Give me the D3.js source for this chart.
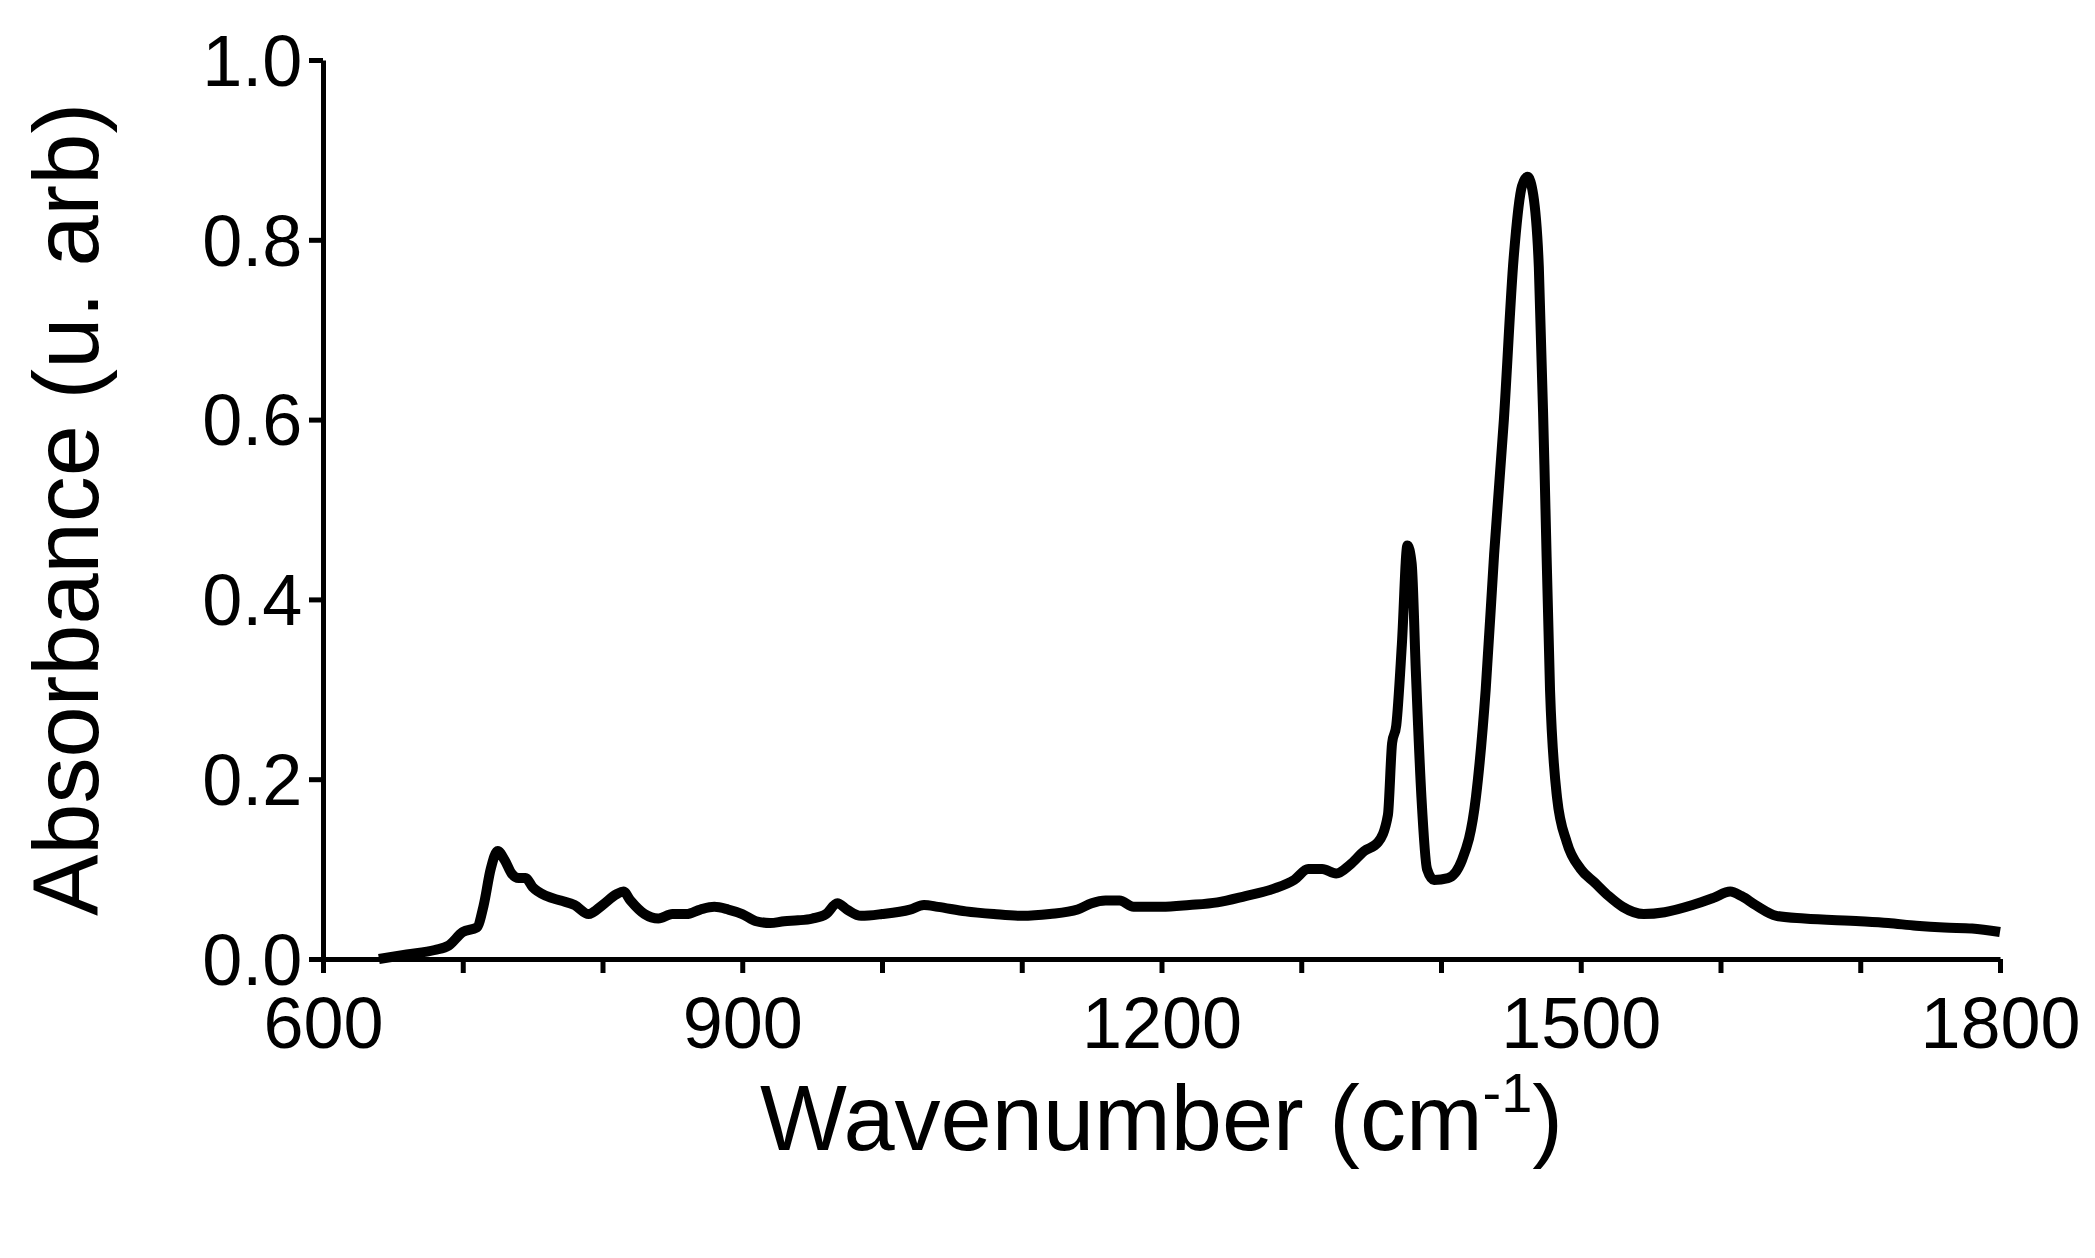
<!DOCTYPE html>
<html><head><meta charset="utf-8">
<script src="https://cdn.jsdelivr.net/npm/d3@7"></script>
<style>body{margin:0;background:#fff}svg{display:block}text{font-family:Arial,"Liberation Sans",sans-serif;fill:#000}</style>
</head><body>
<svg id="c" width="2095" height="1258"></svg>
<script>
const wavenumber=[640,660,680,690,700,710,715,720,725,730,735,740,745,750,760,770,780,790,800,810,815,820,830,840,850,860,870,880,890,900,910,920,930,940,950,960,968,975,985,1000,1020,1030,1040,1060,1080,1100,1120,1140,1150,1160,1170,1180,1200,1220,1240,1260,1280,1295,1305,1315,1325,1335,1345,1355,1362,1365,1368,1372,1376,1379,1382,1386,1390,1395,1405,1415,1425,1432,1438,1445,1452,1458,1462,1466,1470,1474,1478,1483,1490,1500,1510,1520,1530,1545,1560,1580,1595,1607,1615,1625,1640,1660,1700,1720,1740,1760,1780,1800];
const absorbance=[0,0.005,0.01,0.015,0.03,0.035,0.06,0.1,0.12,0.11,0.095,0.09,0.09,0.08,0.07,0.065,0.06,0.05,0.06,0.072,0.075,0.065,0.05,0.045,0.05,0.05,0.055,0.058,0.055,0.05,0.042,0.04,0.042,0.043,0.045,0.05,0.062,0.055,0.048,0.05,0.055,0.06,0.058,0.053,0.05,0.048,0.05,0.055,0.062,0.065,0.065,0.058,0.058,0.06,0.063,0.07,0.078,0.088,0.1,0.1,0.095,0.105,0.12,0.13,0.16,0.24,0.26,0.35,0.46,0.44,0.32,0.18,0.1,0.088,0.09,0.11,0.18,0.3,0.45,0.6,0.78,0.86,0.87,0.85,0.77,0.55,0.3,0.18,0.13,0.1,0.085,0.07,0.058,0.05,0.052,0.06,0.068,0.075,0.07,0.06,0.048,0.045,0.042,0.04,0.037,0.035,0.034,0.03];
const xTicks=[600,700,800,900,1000,1100,1200,1300,1400,1500,1600,1700,1800];
const xLabels=[600,900,1200,1500,1800];
const yTicks=[0,0.2,0.4,0.6,0.8,1.0];

const svg=d3.select("#c");
const x=d3.scaleLinear().domain([600,1800]).range([323,2000]);
const y=d3.scaleLinear().domain([0,1]).range([959,60]);

const xa=svg.append("g").attr("transform","translate(0,959)")
  .call(d3.axisBottom(x).tickValues(xTicks).tickSize(14).tickSizeOuter(0)
   .tickFormat(d=>xLabels.includes(d)?d:""));
const ya=svg.append("g").attr("transform","translate(323,0)")
  .call(d3.axisLeft(y).tickValues(yTicks).tickSize(14).tickSizeOuter(0).tickFormat(d3.format(".1f")));
[xa,ya].forEach(a=>{a.select(".domain").attr("stroke","#000").attr("stroke-width",5);
  a.selectAll(".tick line").attr("stroke","#000").attr("stroke-width",5);
  a.selectAll("text").attr("font-size",72).attr("font-family","Arial, Liberation Sans, sans-serif");});
xa.selectAll("text").attr("dy","1.0em");
ya.selectAll("text").attr("dx","-0.05em").attr("dy","0.35em");

svg.append("path").datum(wavenumber.map((w,i)=>[w,absorbance[i]]))
  .attr("fill","none").attr("stroke","#000").attr("stroke-width",10).attr("stroke-linejoin","round")
  .attr("d",d3.line().x(d=>x(d[0])).y(d=>y(d[1])).curve(d3.curveMonotoneX));

const xt=svg.append("text").attr("x",x(1200)).attr("y",1150).attr("text-anchor","middle").attr("font-size",92);
xt.append("tspan").text("Wavenumber (cm");
xt.append("tspan").text("-1").attr("font-size",56).attr("dy",-38);
xt.append("tspan").text(")").attr("dy",38);
svg.append("text").attr("transform","translate(98,"+y(0.5)+") rotate(-90)").attr("text-anchor","middle")
  .attr("font-size",92).text("Absorbance (u. arb)");
</script>
</body></html>
